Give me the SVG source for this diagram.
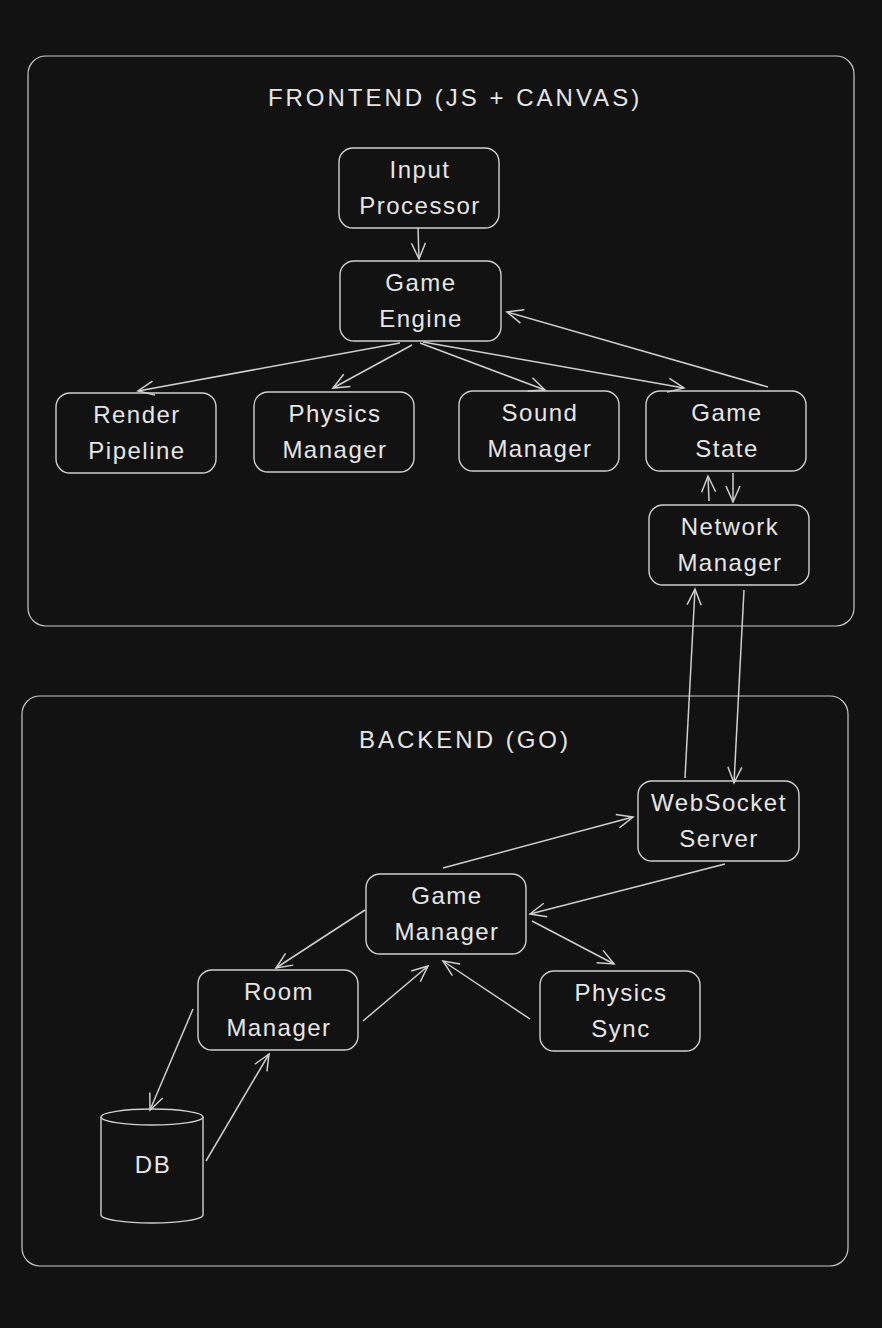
<svg xmlns="http://www.w3.org/2000/svg" width="882" height="1328" viewBox="0 0 882 1328">
<style>
.bg{fill:#121212}
.box{fill:#121212;stroke:#d0d0d0;stroke-width:1.4}
.cont{fill:none;stroke:#c8c8c8;stroke-width:1.2}
.lbl{font-family:"Liberation Sans",Arial,sans-serif;font-size:24px;fill:#e6e6e6;text-anchor:middle;letter-spacing:1.5px}
.title{font-family:"Liberation Sans",Arial,sans-serif;font-size:24px;fill:#e6e6e6;text-anchor:middle;letter-spacing:3px}
.edge{fill:none;stroke:#cfcfcf;stroke-width:1.5;marker-end:url(#ah)}
</style>
<defs>
<marker id="ah" viewBox="0 0 20 20" refX="18" refY="10" markerWidth="20" markerHeight="20" markerUnits="userSpaceOnUse" orient="auto">
<path d="M2,3 L18,10 L2,17" fill="none" stroke="#cfcfcf" stroke-width="1.5"/>
</marker>
</defs>
<rect class="bg" x="0" y="0" width="882" height="1328"/>
<g id="frontend">
<rect class="cont" x="28" y="56" width="826" height="570" rx="18"/>
<text class="title" x="455" y="106">FRONTEND (JS + CANVAS)</text>
</g>
<g id="backend">
<rect class="cont" x="22" y="696" width="826" height="570" rx="18"/>
<text class="title" x="465" y="748">BACKEND (GO)</text>
</g>
<g id="input-processor">
<rect class="box" x="339" y="148" width="160" height="80" rx="14"/>
<text class="lbl" x="420" y="178">Input</text><text class="lbl" x="420" y="214">Processor</text>
</g>
<g id="game-engine">
<rect class="box" x="340" y="261" width="161" height="80" rx="14"/>
<text class="lbl" x="421" y="291">Game</text><text class="lbl" x="421" y="327">Engine</text>
</g>
<g id="render-pipeline">
<rect class="box" x="56" y="393" width="160" height="80" rx="14"/>
<text class="lbl" x="137" y="423">Render</text><text class="lbl" x="137" y="459">Pipeline</text>
</g>
<g id="physics-manager">
<rect class="box" x="254" y="392" width="160" height="80" rx="14"/>
<text class="lbl" x="335" y="422">Physics</text><text class="lbl" x="335" y="458">Manager</text>
</g>
<g id="sound-manager">
<rect class="box" x="459" y="391" width="160" height="80" rx="14"/>
<text class="lbl" x="540" y="421">Sound</text><text class="lbl" x="540" y="457">Manager</text>
</g>
<g id="game-state">
<rect class="box" x="646" y="391" width="160" height="80" rx="14"/>
<text class="lbl" x="727" y="421">Game</text><text class="lbl" x="727" y="457">State</text>
</g>
<g id="network-manager">
<rect class="box" x="649" y="505" width="160" height="80" rx="14"/>
<text class="lbl" x="730" y="535">Network</text><text class="lbl" x="730" y="571">Manager</text>
</g>
<g id="websocket-server">
<rect class="box" x="638" y="781" width="161" height="80" rx="14"/>
<text class="lbl" x="719" y="811">WebSocket</text><text class="lbl" x="719" y="847">Server</text>
</g>
<g id="game-manager">
<rect class="box" x="366" y="874" width="160" height="80" rx="14"/>
<text class="lbl" x="447" y="904">Game</text><text class="lbl" x="447" y="940">Manager</text>
</g>
<g id="room-manager">
<rect class="box" x="198" y="970" width="160" height="80" rx="14"/>
<text class="lbl" x="279" y="1000">Room</text><text class="lbl" x="279" y="1036">Manager</text>
</g>
<g id="physics-sync">
<rect class="box" x="540" y="971" width="160" height="80" rx="14"/>
<text class="lbl" x="621" y="1001">Physics</text><text class="lbl" x="621" y="1037">Sync</text>
</g>
<g id="db">
<path class="box" d="M101,1117 L101,1215 A51,8 0 0 0 203,1215 L203,1117"/>
<ellipse class="box" cx="152" cy="1117" rx="51" ry="8"/>
<text class="lbl" x="153" y="1173">DB</text>
</g>
<g id="connectors">
<path class="edge" d="M418,228 L419,259"/>
<path class="edge" d="M400,343 L138,391"/>
<path class="edge" d="M412,345 L333,388"/>
<path class="edge" d="M420,343 L545,390"/>
<path class="edge" d="M423,342 L684,388"/>
<path class="edge" d="M768,387 L507,312"/>
<path class="edge" d="M709,501 L708,476"/>
<path class="edge" d="M733,473 L733,502"/>
<path class="edge" d="M685,778 L695,589"/>
<path class="edge" d="M744,590 L734,783"/>
<path class="edge" d="M443,868 L633,817"/>
<path class="edge" d="M725,864 L530,914"/>
<path class="edge" d="M365,910 L276,968"/>
<path class="edge" d="M363,1021 L428,966"/>
<path class="edge" d="M530,1019 L443,961"/>
<path class="edge" d="M532,921 L614,964"/>
<path class="edge" d="M193,1009 L150,1110"/>
<path class="edge" d="M206,1161 L269,1054"/>
</g>
</svg>
